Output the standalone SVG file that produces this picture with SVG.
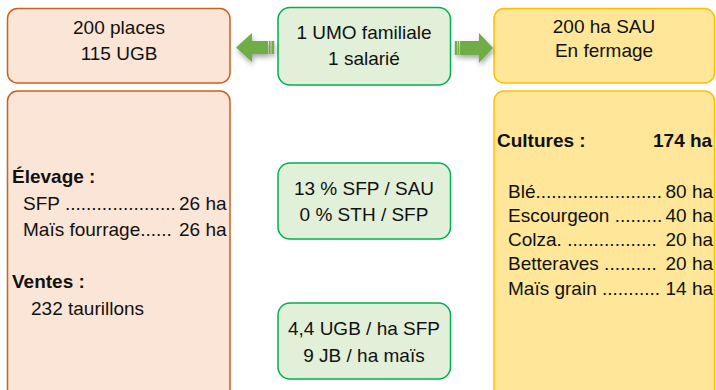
<svg xmlns="http://www.w3.org/2000/svg" width="716" height="390" viewBox="0 0 716 390">
<defs>
<style>
text{font-family:"Liberation Sans",Arial,sans-serif;font-size:19px;fill:#111}
.c{text-anchor:middle}
.b{font-weight:bold}
.or{fill:#FBE5D6;stroke:#C9621C;stroke-width:1.5}
.ye{fill:#FFE699;stroke:#FFC000;stroke-width:1.5}
.gr{fill:#E2F0D9;stroke:#00B050;stroke-width:1.5}
.ar{fill:#70AD47}
</style>
<filter id="sh" x="-30%" y="-30%" width="160%" height="180%">
<feDropShadow dx="1" dy="3" stdDeviation="2.5" flood-color="#000" flood-opacity="0.35"/>
</filter>
</defs>
<rect width="716" height="390" fill="#fff"/>
<g id="n-places">
<rect class="or" x="7.5" y="8.5" width="222.5" height="74.5" rx="10"/>
<text class="c" x="119" y="34">200 places</text>
<text class="c" x="119" y="60">115 UGB</text>
</g>
<g id="n-umo">
<rect class="gr" x="278" y="7.5" width="172.5" height="77.5" rx="12"/>
<text class="c" x="364" y="39">1 UMO familiale</text>
<text class="c" x="364" y="65">1 salarié</text>
</g>
<g id="n-sau">
<rect class="ye" x="494" y="8.5" width="220.5" height="74.5" rx="10"/>
<text class="c" x="604" y="33">200 ha SAU</text>
<text class="c" x="604" y="57">En fermage</text>
</g>
<g id="n-elevage">
<rect class="or" x="7.5" y="91" width="222.5" height="320" rx="10"/>
<text class="b" x="12" y="183">Élevage :</text>
<text x="23" y="210">SFP .....................<tspan x="179">26 ha</tspan></text>
<text x="23" y="236">Maïs fourrage......<tspan x="179">26 ha</tspan></text>
<text class="b" x="12" y="288">Ventes :</text>
<text x="31" y="315">232 taurillons</text>
</g>
<g id="n-cultures">
<rect class="ye" x="494" y="91" width="220.5" height="320" rx="10"/>
<text class="b" x="497" y="147">Cultures :<tspan x="653">174 ha</tspan></text>
<text x="508" y="198">Blé........................<tspan x="665.5">80 ha</tspan></text>
<text x="508" y="222">Escourgeon .........<tspan x="665.5">40 ha</tspan></text>
<text x="508" y="246">Colza. .................<tspan x="665.5">20 ha</tspan></text>
<text x="508" y="270">Betteraves ..........<tspan x="665.5">20 ha</tspan></text>
<text x="508" y="295">Maïs grain ...........<tspan x="665.5">14 ha</tspan></text>
</g>
<g id="n-sfp">
<rect class="gr" x="278" y="163" width="172.5" height="76" rx="12"/>
<text class="c" x="364" y="195">13 % SFP / SAU</text>
<text class="c" x="364" y="221">0 % STH / SFP</text>
</g>
<g id="n-ugb">
<rect class="gr" x="278" y="303" width="172.5" height="76" rx="12"/>
<text class="c" x="364" y="335">4,4 UGB / ha SFP</text>
<text class="c" x="364" y="362">9 JB / ha maïs</text>
</g>
<g id="connectors">
<g filter="url(#sh)">
<path class="ar" d="M236 47.5 L252 33 L252 41 L268 41 L268 54 L252 54 L252 62 Z"/>
<rect class="ar" x="269" y="41" width="1.6" height="13"/>
<rect class="ar" x="271.4" y="41" width="2.8" height="13"/>
</g>
<g filter="url(#sh)">
<path class="ar" d="M493 48 L479 33 L479 41 L460 41 L460 55 L479 55 L479 63 Z"/>
<rect class="ar" x="457.6" y="41" width="1.6" height="14"/>
<rect class="ar" x="454.8" y="41" width="2.2" height="14"/>
</g>
</g>
</svg>
